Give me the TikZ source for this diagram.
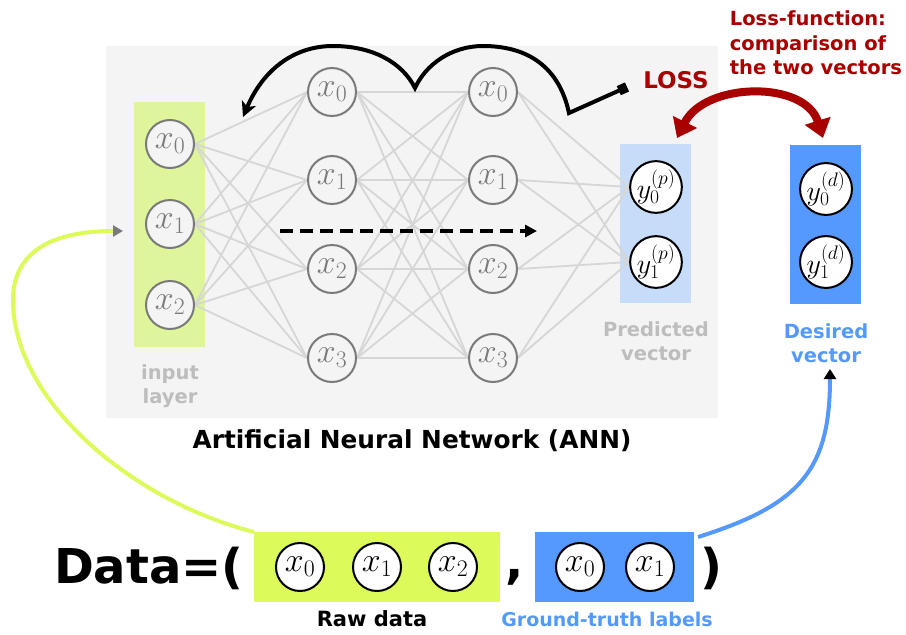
\RequirePackage{fix-cm}
\documentclass[tikz,border=0pt]{standalone}
\usepackage[no-math]{fontspec}
\setmainfont{DejaVu Sans}
\usetikzlibrary{arrows.meta}
\definecolor{panel}{HTML}{F4F4F4}
\definecolor{ngray}{HTML}{7A7A7A}
\definecolor{conn}{HTML}{D6D6D6}
\definecolor{inlayer}{HTML}{DFF59B}
\definecolor{lime}{HTML}{DCFA5A}
\definecolor{pblue}{HTML}{C6DCF8}
\definecolor{dblue}{HTML}{5599FF}
\definecolor{lblgray}{HTML}{BDBDBD}
\definecolor{dred}{HTML}{A80000}
\pgfdeclarelayer{bg}
\pgfdeclarelayer{edges}
\pgfsetlayers{bg,edges,main}
\begin{document}
\begin{tikzpicture}[x=1pt,y=-1pt,
  hid/.style={circle, draw=ngray, line width=2pt, fill=panel, text=ngray,
    minimum size=48pt, inner sep=0pt, font=\fontsize{34}{36}\selectfont},
  outn/.style={circle, draw=black, line width=2pt, fill=white, text=black,
    minimum size=48pt, inner sep=0pt, font=\fontsize{28}{30}\selectfont},
  datan/.style={outn, font=\fontsize{34}{36}\selectfont},
  conn/.style={draw=conn, line width=1.8pt},
  lbl/.style={align=center, font=\bfseries\fontsize{19.5}{24.5}\selectfont},
  boxn/.style={inner sep=0pt, outer sep=0pt}
]
\useasboundingbox (0,0) rectangle (906,635);

\begin{pgfonlayer}{bg}
  \fill[panel] (106,46) rectangle (718,418);
  \fill[inlayer] (134,102) rectangle (205,347);
  \fill[pblue] (620,144) rectangle (691,303);
\end{pgfonlayer}
\fill[dblue] (790,145) rectangle (861,304);

% input layer
\node[hid] (i0) at (170,144) {$x_0$};
\node[hid] (i1) at (170,224) {$x_1$};
\node[hid] (i2) at (170,305) {$x_2$};
% hidden layers
\foreach \k/\y in {0/92,1/180,2/269,3/358}{
  \node[hid] (a\k) at (332,\y) {$x_\k$};
  \node[hid] (b\k) at (493,\y) {$x_\k$};
}
% output
\node[outn] (p0) at (656,187) {$y_0^{(p)}$};
\node[outn] (p1) at (656,262) {$y_1^{(p)}$};
\node[outn] (d0) at (826,189) {$y_0^{(d)}$};
\node[outn] (d1) at (826,262) {$y_1^{(d)}$};

\begin{pgfonlayer}{edges}
  \foreach \i in {0,1,2}{\foreach \j in {0,1,2,3}{\draw[conn] (i\i.east) -- (a\j.west);}}
  \foreach \i in {0,1,2,3}{\foreach \j in {0,1,2,3}{\draw[conn] (a\i.east) -- (b\j.west);}}
  \foreach \i in {0,1,2,3}{\foreach \j in {0,1}{\draw[conn] (b\i.east) -- (p\j.west);}}
\end{pgfonlayer}

% labels
\node[lbl, text=lblgray] (inlbl) at (170,386) {input\\layer};
\node[lbl, text=lblgray] (predlbl) at (656,341) {Predicted\\vector};
\node[lbl, text=dblue] (deslbl) at (826,343) {Desired\\vector};
\node[lbl, text=dred, align=left] (lossfn) at (816,43) {Loss-function:\\comparison of\\the two vectors};
\node[font=\bfseries\fontsize{23}{26}\selectfont, text=dred] (loss) at (676,80) {LOSS};
\node[font=\bfseries\fontsize{24.8}{28}\selectfont] (ann) at (412,441) {Artificial Neural Network (ANN)};

% forward dashed arrow
\coordinate (fwdA) at (280,231);
\coordinate (fwdB) at (537,231);
\draw[line width=4pt, dash pattern=on 13pt off 7pt, -{Triangle[length=12pt,width=12pt]}] (fwdA) -- (fwdB);

% backprop arc
\coordinate (lossend) at (627,87);
\coordinate (lossbend) at (569,113);
\coordinate (backtip) at (243,117);
\draw[line width=4pt, line join=miter, {Square[length=9pt,width=10pt]}-{Stealth[length=15pt,width=15pt,inset=4pt]}]
  (lossend) -- (lossbend) .. controls (558,62) and (522,46) .. (483,46)
  .. controls (452,46) and (426,64) .. (415,88)
  .. controls (402,62) and (372,46) .. (333,46)
  .. controls (292,46) and (262,72) .. (backtip);

% loss comparison arrow
\coordinate (cmpA) at (677,138);
\coordinate (cmpB) at (823,138);
\draw[dred, line width=8pt, {Triangle[length=18pt,width=26pt]}-{Triangle[length=18pt,width=26pt]}]
  (cmpA) .. controls (705,82) and (805,80) .. (cmpB);

% bottom
\node[boxn, fill=lime, minimum width=246pt, minimum height=70pt] (rawbox) at (377,567) {};
\node[boxn, fill=dblue, minimum width=159pt, minimum height=70pt] (gtbox) at (614.5,567) {};
\node[datan] (r0) at (300,567) {$x_0$};
\node[datan] (r1) at (377,567) {$x_1$};
\node[datan] (r2) at (453,567) {$x_2$};
\node[datan] (g0) at (580,567) {$x_0$};
\node[datan] (g1) at (650,567) {$x_1$};
\node[anchor=base east, inner sep=0pt, font=\bfseries\fontsize{48}{50}\selectfont] (data) at (244,583) {Data=(};
\node[anchor=base, inner sep=0pt, font=\bfseries\fontsize{48}{50}\selectfont] (comma) at (515,578) {,};
\node[anchor=base, inner sep=0pt, font=\bfseries\fontsize{48}{50}\selectfont] (rpar) at (711,583) {)};
\node[lbl, font=\bfseries\fontsize{21}{24}\selectfont] (rawlbl) at (372,619) {Raw data};
\node[lbl, text=dblue, font=\bfseries\fontsize{19}{24}\selectfont] (gtlbl) at (607,619) {Ground-truth labels};

% input curve
\coordinate (inTip) at (123,231);
\draw[lime, line width=4pt, -{Triangle[color=ngray,length=10pt,width=11pt]}]
  (rawbox.north west) .. controls (130,500) and (13,400) .. (13,300)
  .. controls (13,260) and (40,231) .. (inTip);

% label curve
\coordinate (desTip) at (830,369);
\draw[dblue, line width=4pt, -{Triangle[color=black,length=10pt,width=12pt]}]
  ([xshift=4pt,yshift=-5pt]gtbox.north east) .. controls (800,505) and (830,470) .. (desTip);
\end{tikzpicture}
\end{document}
